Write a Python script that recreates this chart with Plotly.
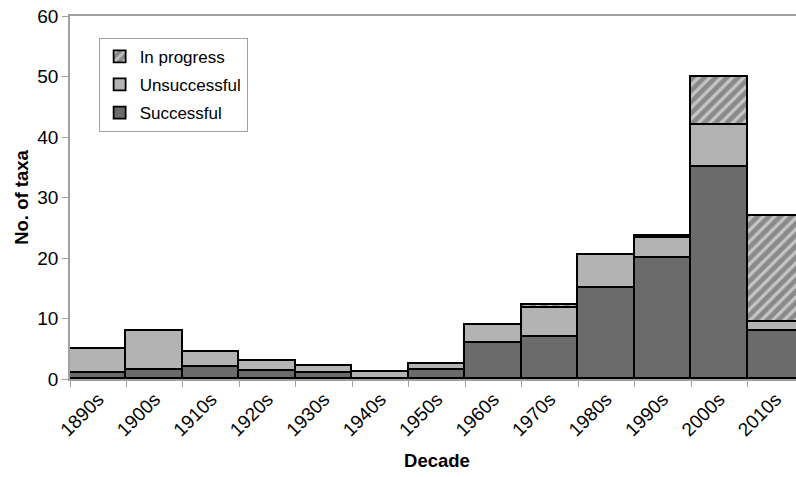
import plotly.graph_objects as go

decades = ["1890s", "1900s", "1910s", "1920s", "1930s", "1940s", "1950s",
           "1960s", "1970s", "1980s", "1990s", "2000s", "2010s"]
successful = [1, 1.5, 2, 1.4, 1, 0, 1.5, 6, 7, 15, 20, 35, 8]
unsuccessful = [4, 6.5, 2.5, 1.6, 1.2, 1.2, 1, 3, 4.8, 5.5, 3.3, 7, 1.5]
in_progress = [0, 0, 0, 0, 0, 0, 0, 0, 0.5, 0, 0.4, 8, 17.5]
y_ticks = [0, 10, 20, 30, 40, 50, 60]

font = "Liberation Sans, Arial, sans-serif"
outline = dict(color="black", width=1.8)

fig = go.Figure()
fig.add_trace(go.Bar(x=decades, y=successful, name="Successful",
                     legendgroup="s", legendrank=3,
                     marker=dict(color="#6b6b6b", line=outline)))
fig.add_trace(go.Bar(x=decades, y=unsuccessful, name="Unsuccessful",
                     legendgroup="u", legendrank=2,
                     marker=dict(color="#b3b3b3", line=outline)))
fig.add_trace(go.Bar(x=decades, y=in_progress, name="In progress",
                     legendgroup="p", legendrank=1,
                     marker=dict(color="#8a8a8a", line=outline,
                                 pattern=dict(shape="/", bgcolor="#8a8a8a",
                                              fgcolor="white", size=8,
                                              solidity=0.4))))

# the chart is wider than the window so that the last bar is cut at the edge
fig.update_layout(
    width=804, height=477,
    margin=dict(l=70, r=0, t=16, b=98),
    barmode="stack", bargap=0,
    plot_bgcolor="white", paper_bgcolor="white",
    font=dict(family=font, size=19, color="black"),
    showlegend=True,
    legend=dict(x=0.039, y=0.94, xanchor="left", yanchor="top",
                traceorder="grouped", bordercolor="#a0a0a0",
                borderwidth=1, bgcolor="white",
                font=dict(size=17, family=font),
                itemwidth=30, tracegroupgap=3),
)
fig.update_xaxes(
    type="category", range=[-0.5, 12.5], automargin=False,
    showline=True, linecolor="#a0a0a0", linewidth=1.5, mirror=True,
    ticks="outside", tickson="boundaries", ticklen=6, tickcolor="#a0a0a0",
    tickangle=-45, tickfont=dict(size=19), ticklabeloverflow="allow",
    title=dict(text="<b>Decade</b>", font=dict(size=18.5), standoff=15),
    showgrid=False,
)
fig.update_yaxes(
    range=[0, 60], tickvals=y_ticks, showgrid=False, zeroline=False,
    automargin=False, ticklabeloverflow="allow",
    showline=True, linecolor="#a0a0a0", linewidth=1.5,
    ticks="outside", ticklen=6, tickcolor="#a0a0a0", tickfont=dict(size=19),
    title=dict(text="<b>No. of taxa</b>", font=dict(size=18.5), standoff=4),
)

fig.write_html(
    "out.html",
    config={"displayModeBar": False},
    post_script="document.body.style.margin='0';"
                "document.body.style.overflow='hidden';",
)
